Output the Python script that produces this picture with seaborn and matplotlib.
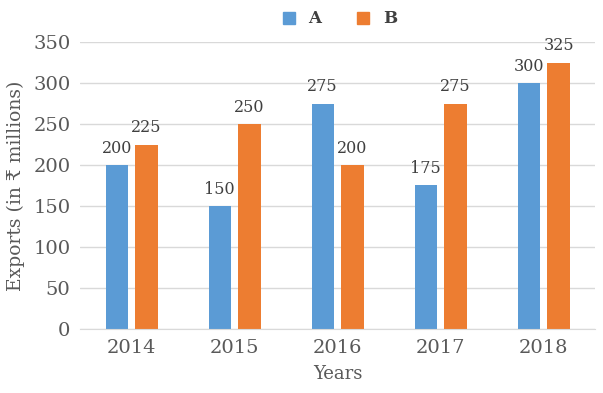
import matplotlib.pyplot as plt
import pandas as pd
import seaborn as sns

years = ["2014", "2015", "2016", "2017", "2018"]
series_a = [200, 150, 275, 175, 300]
series_b = [225, 250, 200, 275, 325]
colors = {"A": "#5B9BD5", "B": "#ED7D31"}

df = pd.DataFrame({
    "year": years * 2,
    "value": series_a + series_b,
    "series": ["A"] * len(years) + ["B"] * len(years),
})

sns.set_style("white")
plt.rcParams["font.family"] = ["DejaVu Serif", "DejaVu Sans"]
grey = "#595959"

fig = plt.figure(figsize=(6.03, 3.93), dpi=100)
ax = fig.add_axes([0.133, 0.163, 0.854, 0.730])
sns.barplot(df, x="year", y="value", hue="series", palette=colors,
            width=0.58, gap=0.25, saturation=1, linewidth=0,
            ax=ax, legend=False)

for cont in ax.containers:
    ax.bar_label(cont, padding=6, fontsize=11.5, color="#404040")

ax.set_ylim(0, 350)
ax.set_xlim(-0.5, 4.5)
ax.set_yticks(range(0, 351, 50))
ax.grid(axis="y", color="#d9d9d9", linewidth=1)
ax.set_axisbelow(True)
for s in ["top", "right", "left"]:
    ax.spines[s].set_visible(False)
ax.spines["bottom"].set_color("#d9d9d9")
ax.tick_params(axis="both", length=0, labelsize=14, colors=grey, pad=7)
ax.set_xlabel("Years", fontsize=13, color=grey, labelpad=6)
ax.set_ylabel("Exports (in ₹ millions)", fontsize=13.5, color=grey, labelpad=6)

handles = [plt.Line2D([], [], marker="s", linestyle="", markersize=8,
                      color=colors[k]) for k in ["A", "B"]]
fig.legend(handles, ["A", "B"], loc="center", bbox_to_anchor=(0.555, 0.952),
           ncol=2, frameon=False, handletextpad=0.2, columnspacing=1.5,
           prop={"size": 12, "weight": "bold"}, labelcolor="#404040")

fig.savefig("out.png", dpi=100)
